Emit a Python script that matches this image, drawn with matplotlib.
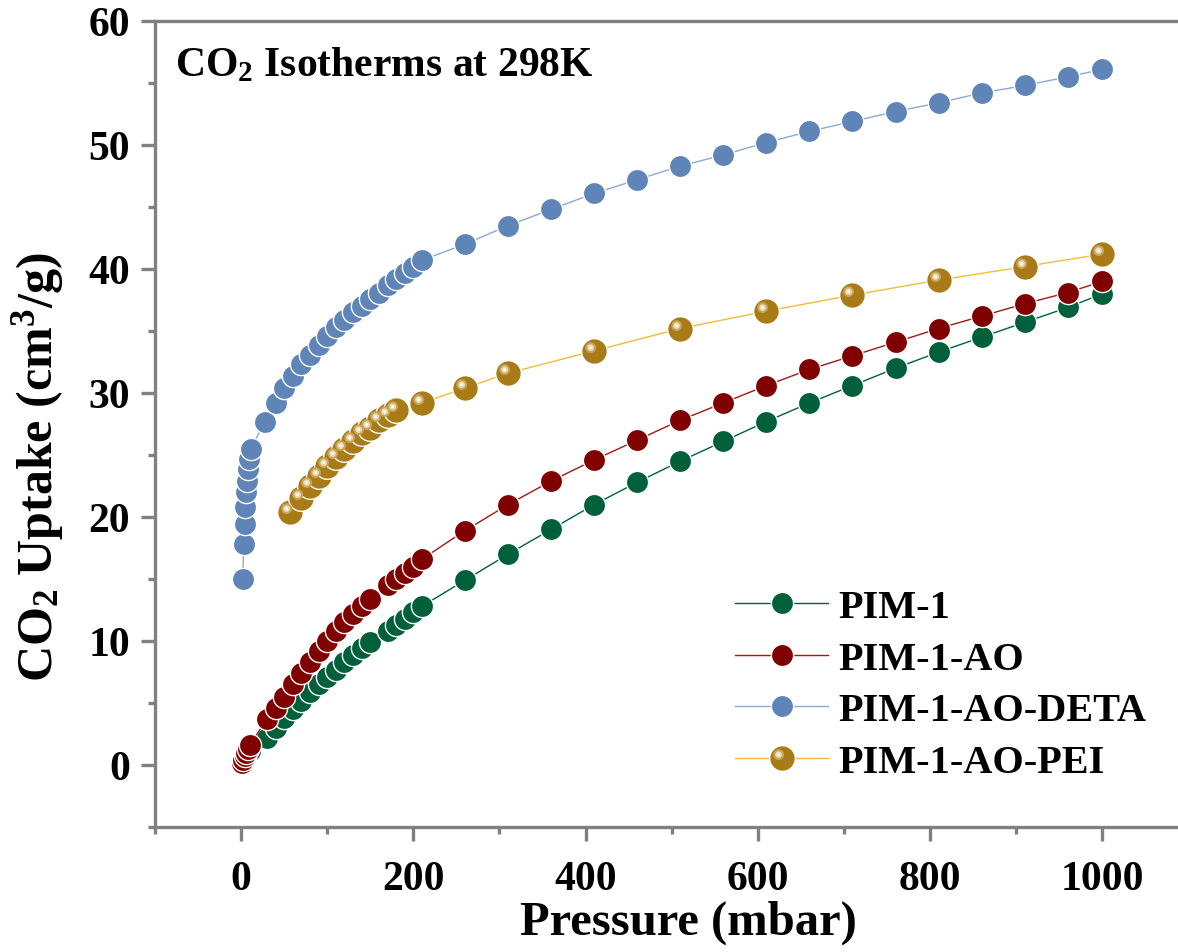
import numpy as np
import matplotlib
matplotlib.use('Agg')
import matplotlib.pyplot as plt
from matplotlib.path import Path
from matplotlib.ticker import MultipleLocator
from matplotlib.legend_handler import HandlerTuple

plt.rcParams['font.family'] = ['Liberation Serif', 'DejaVu Serif']
plt.rcParams['font.weight'] = 'bold'
plt.rcParams['mathtext.fontset'] = 'custom'
plt.rcParams['mathtext.rm'] = 'Liberation Serif:bold'
plt.rcParams['mathtext.default'] = 'regular'

# pressures (mbar) and uptakes (cm3/g)
p_pim = [1, 2, 4, 6, 8, 10, 30, 40, 50, 60, 70, 80, 90, 100, 110, 120, 130, 140, 150,
         170, 180, 190, 200, 210, 260, 310, 360, 410, 460, 510, 560, 610, 660, 710,
         760, 810, 860, 910, 960, 1000]
pim1 = [0.15, 0.3, 0.5, 0.75, 0.95, 1.1, 2.2, 3.0, 3.8, 4.5, 5.2, 5.9, 6.5, 7.1, 7.7,
        8.3, 8.9, 9.4, 9.9, 10.8, 11.3, 11.8, 12.3, 12.8, 14.9, 17.0, 19.0, 21.0, 22.8,
        24.5, 26.1, 27.7, 29.2, 30.6, 32.0, 33.3, 34.5, 35.7, 36.9, 38.0]
pim1_ao = [0.2, 0.4, 0.7, 1.0, 1.3, 1.6, 3.7, 4.6, 5.5, 6.5, 7.4, 8.3, 9.2, 10.0, 10.8,
           11.5, 12.2, 12.8, 13.4, 14.5, 15.0, 15.5, 16.0, 16.6, 18.9, 21.0, 22.9, 24.6,
           26.2, 27.8, 29.2, 30.6, 31.9, 33.0, 34.1, 35.2, 36.2, 37.2, 38.1, 39.0]

p_deta = [2, 3, 4, 5, 6, 7, 8, 9, 11, 28, 40, 50, 60, 70, 80, 90, 100, 110, 120, 130,
          140, 150, 160, 170, 180, 190, 200, 210, 260, 310, 360, 410, 460, 510, 560,
          610, 660, 710, 760, 810, 860, 910, 960, 1000]
deta = [15.0, 17.8, 19.4, 20.8, 22.0, 22.9, 23.9, 24.7, 25.5, 27.7, 29.2, 30.4, 31.4,
        32.3, 33.1, 33.9, 34.6, 35.3, 35.9, 36.5, 37.0, 37.6, 38.1, 38.7, 39.2, 39.7,
        40.2, 40.7, 42.0, 43.5, 44.8, 46.1, 47.2, 48.3, 49.2, 50.2, 51.1, 51.9, 52.7,
        53.4, 54.2, 54.8, 55.5, 56.1]

p_pei = [57, 70, 80, 90, 100, 110, 120, 130, 140, 150, 160, 170, 180, 210, 260, 310,
         410, 510, 610, 710, 810, 910, 1000]
pei = [20.4, 21.5, 22.5, 23.3, 24.1, 24.8, 25.5, 26.1, 26.8, 27.2, 27.8, 28.2, 28.6,
       29.2, 30.4, 31.6, 33.4, 35.2, 36.6, 37.9, 39.1, 40.2, 41.2]


def shine(cx, cy, r):
    # small circle shifted up-left, with dummy points so the marker scale stays fixed
    c = Path.circle((cx, cy), r)
    verts = np.vstack([c.vertices, [[1, 1], [-1, -1]]])
    codes = np.concatenate([c.codes, [Path.MOVETO, Path.MOVETO]])
    return Path(verts, codes)


fig = plt.figure(figsize=(11.78, 9.53), dpi=100)
ax = fig.add_axes([155 / 1178, 1 - 828 / 953, 1 - 155 / 1178, (828 - 22) / 953])

ms = 16
ax.plot(p_pim, pim1, '-o', color='#00603c', lw=1.0, ms=ms, mec='white', mew=1.0,
        label='PIM-1')
ax.plot(p_pim, pim1_ao, '-o', color='#a01818', mfc='#800000', lw=1.0, ms=ms,
        mec='white', mew=1.0, label='PIM-1-AO')
ax.plot(p_deta, deta, '-o', color='#8ea8d2', mfc='#5f84b7', lw=1.0, ms=ms,
        mec='white', mew=1.0, label='PIM-1-AO-DETA')

ms_g = 18.5
gold_line, = ax.plot(p_pei, pei, '-o', color='#f2bc3a', mfc='#a97b16', lw=1.0, ms=ms_g,
                     mec='white', mew=1.0)
h1, = ax.plot(p_pei, pei, ls='none', marker=shine(-0.3, 0.3, 0.42), ms=ms_g,
              mfc='#c7a55a', mec='none')
h2, = ax.plot(p_pei, pei, ls='none', marker=shine(-0.3, 0.3, 0.26), ms=ms_g,
              mfc='#eadbb5', mec='none')
h3, = ax.plot(p_pei, pei, ls='none', marker=shine(-0.3, 0.3, 0.11), ms=ms_g,
              mfc='white', mec='none')

ax.set_xlim(-100, 1088)
ax.set_ylim(-5, 60)

ax.spines['right'].set_visible(False)
for s in ['left', 'bottom', 'top']:
    ax.spines[s].set_color('#808080')
    ax.spines[s].set_linewidth(2.4)

ax.xaxis.set_major_locator(MultipleLocator(200))
ax.xaxis.set_minor_locator(MultipleLocator(100))
ax.yaxis.set_major_locator(MultipleLocator(10))
ax.yaxis.set_minor_locator(MultipleLocator(5))
ax.tick_params(which='major', length=10, width=2.4, color='#808080', labelsize=30, pad=8)
ax.tick_params(which='minor', length=5, width=2.4, color='#808080')
ax.tick_params(axis='x', which='major', pad=14)
for lab in ax.get_xticklabels() + ax.get_yticklabels():
    lab.set_fontweight('bold')

ax.set_xlabel('Pressure (mbar)', fontsize=35, fontweight='bold')
ax.xaxis.set_label_coords(0.521, -0.09)
ax.set_ylabel('CO$_2$ Uptake (cm$^3$/g)', fontsize=36, fontweight='bold')
ax.yaxis.set_label_coords(-0.087, 0.448)

ax.text(0.02, 0.97, 'CO$_2$ Isotherms at 298K', transform=ax.transAxes,
        fontsize=30, fontweight='bold', va='top', ha='left')

handles, labels = ax.get_legend_handles_labels()
handles.append((gold_line, h1, h2, h3))
labels.append('PIM-1-AO-PEI')
ax.legend(handles, labels, loc='lower left', bbox_to_anchor=(0.532, 0.012),
          frameon=False, fontsize=29, handlelength=2.3, handletextpad=0.25,
          labelspacing=0.36, handler_map={tuple: HandlerTuple(ndivide=1, pad=0)})

fig.savefig('out.png', dpi=100)
